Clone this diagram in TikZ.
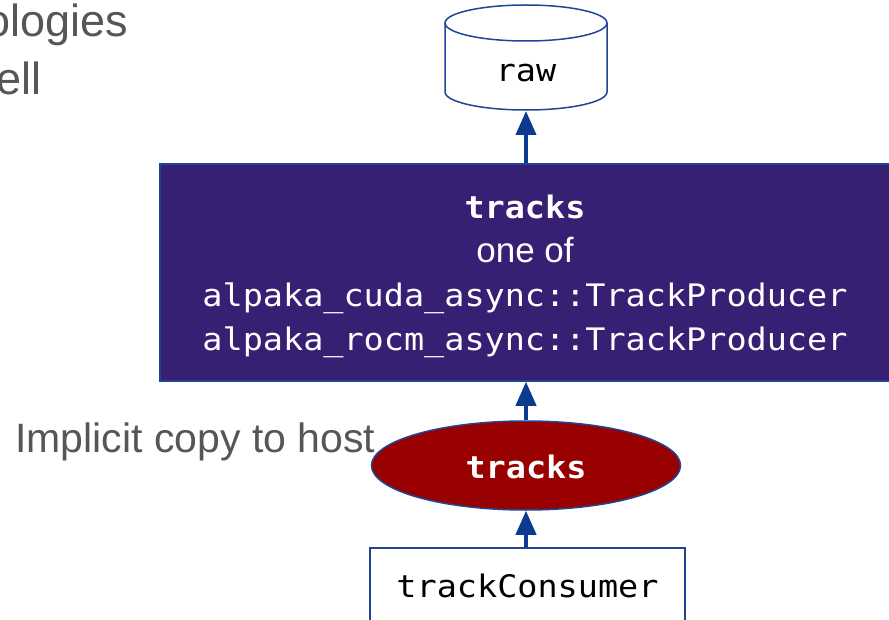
\documentclass[tikz,border=0pt]{standalone}
\usepackage{fontspec}
\setmainfont{Liberation Sans}
\newfontfamily\monof[FakeStretch=1.08]{DejaVu Sans Mono}
\newcommand\codefont{\monof\fontsize{31}{44}\selectfont}
\usetikzlibrary{shapes.geometric,arrows.meta}
\definecolor{slidegray}{HTML}{565656}
\definecolor{edgeblue}{HTML}{1F4596}
\definecolor{arrowblue}{HTML}{0B3A8E}
\definecolor{prodpurple}{HTML}{371F74}
\definecolor{hostred}{HTML}{990000}

\begin{document}
\begin{tikzpicture}[x=1pt,y=-1pt,
  flow/.style={draw=arrowblue, line width=4pt, -{Triangle[width=20pt,length=24pt]}},
  slidetext/.style={text=slidegray, inner sep=0pt, anchor=base west},
  outline/.style={draw=edgeblue, line width=1.5pt},
  prodbox/.style={outline, fill=prodpurple, rectangle, minimum width=731pt, minimum height=217pt, inner sep=0pt},
  prodlines/.style={text=white, align=center, inner sep=0pt, anchor=north, font=\fontsize{35}{44}\selectfont},
  hostellipse/.style={outline, fill=hostred, ellipse, minimum width=309pt, minimum height=89pt, inner sep=0pt,
    text=white, font=\codefont\bfseries, text height=26pt, text depth=0pt},
  consbox/.style={outline, fill=white, rectangle, minimum width=315pt, minimum height=75pt, inner sep=0pt,
    font=\codefont, text height=23pt, text depth=0pt},
]
\useasboundingbox (0,0) rectangle (889,620);
\clip (0,0) rectangle (889,620);

% slide text running in from the left
\node[slidetext, font=\fontsize{45}{58}\selectfont] (frag1) at (-15,37) {ologies};
\node[slidetext, font=\fontsize{45}{58}\selectfont] (frag2) at (-4,95) {ell};

% raw data store (cylinder)
\filldraw[outline, fill=white] (445,23) -- (445,92)
  arc[start angle=180, end angle=0, x radius=81, y radius=18] -- (607,23);
\filldraw[outline, fill=white] (526,23) ellipse [x radius=81, y radius=18];
\node[inner sep=0pt, anchor=base, font=\codefont] (raw) at (526,82) {raw};
\coordinate (rawbase) at (526,111);

% producer module
\node[prodbox] (prod) at (525.5,272.5) {};
\node[prodlines] (prodtext) at (525,194.5)
  {{\codefont\bfseries tracks}\\
   one of\\
   {\codefont alpaka\_cuda\_async::TrackProducer}\\
   {\codefont alpaka\_rocm\_async::TrackProducer}};

% host copy of the product
\node[hostellipse] (hostcopy) at (526,465.5) {tracks};
\node[slidetext, font=\fontsize{41}{48}\selectfont] (copylabel) at (15,452) {Implicit copy to host};

% consumer module
\node[consbox] (cons) at (527.5,585.5) {trackConsumer};

% data flow
\draw[flow] (prod.north -| raw) -- (rawbase);
\draw[flow] (hostcopy.north) -- (prod.south -| hostcopy);
\draw[flow] (cons.north -| hostcopy) -- (hostcopy.south);
\end{tikzpicture}
\end{document}
